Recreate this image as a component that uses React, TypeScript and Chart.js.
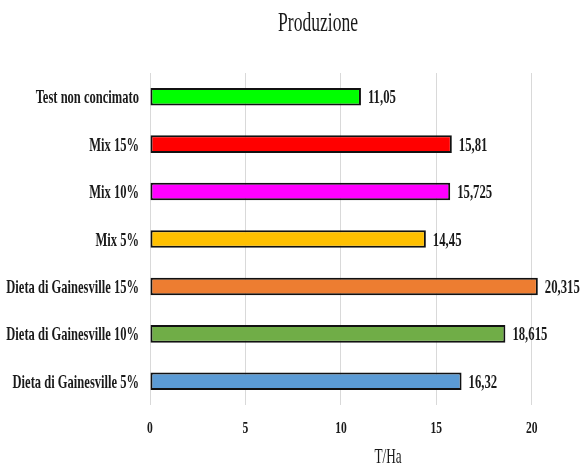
import React, { useEffect, useRef } from "react";
import { Chart, registerables } from "chart.js";

Chart.register(...registerables);

const categories = [
  "Test non concimato",
  "Mix 15%",
  "Mix 10%",
  "Mix 5%",
  "Dieta di Gainesville 15%",
  "Dieta di Gainesville 10%",
  "Dieta di Gainesville 5%",
];
const values = [11.05, 15.81, 15.725, 14.45, 20.315, 18.615, 16.32];
const valueLabels = ["11,05", "15,81", "15,725", "14,45", "20,315", "18,615", "16,32"];
const barColors = ["#00FF00", "#FF0000", "#FF00FF", "#FFC000", "#ED7D31", "#70AD47", "#5B9BD5"];
const xTicks = [0, 5, 10, 15, 20];
const titleText = "Produzione";
const xTitle = "T/Ha";

const FONT = "'Liberation Serif', 'Times New Roman', serif";
const TEXT = "#1a1a1a";

function drawCondensed(
  ctx: CanvasRenderingContext2D,
  text: string,
  x: number,
  y: number,
  font: string,
  sx: number,
  align: "left" | "right" | "center"
) {
  ctx.save();
  ctx.font = font;
  ctx.fillStyle = TEXT;
  ctx.textBaseline = "alphabetic";
  ctx.textAlign = align;
  ctx.translate(x, y);
  ctx.scale(sx, 1);
  ctx.fillText(text, 0, 0);
  ctx.restore();
}

const textPlugin = {
  id: "condensedText",
  afterDraw(chart: any) {
    const ctx = chart.ctx as CanvasRenderingContext2D;
    const meta = chart.getDatasetMeta(0);
    const xs = chart.scales.x;
    const area = chart.chartArea;
    const labelFont = `bold 19px ${FONT}`;
    // title
    drawCondensed(ctx, titleText, 318, 31, `normal 27px ${FONT}`, 0.65, "center");
    // category labels and value labels
    meta.data.forEach((bar: any, i: number) => {
      drawCondensed(ctx, categories[i], 139, bar.y + 6.5, labelFont, 0.66, "right");
      drawCondensed(ctx, valueLabels[i], bar.x + 7, bar.y + 6.5, labelFont, 0.67, "left");
    });
    // x tick labels
    xTicks.forEach((v) => {
      drawCondensed(ctx, String(v), xs.getPixelForValue(v), area.bottom + 28, `bold 17px ${FONT}`, 0.68, "center");
    });
    // x axis title
    drawCondensed(ctx, xTitle, 388, 463, `normal 22px ${FONT}`, 0.6, "center");
  },
};

export default function App() {
  const ref = useRef<HTMLCanvasElement>(null);
  useEffect(() => {
    document.body.style.margin = "0";
    const chart = new Chart(ref.current!, {
      type: "bar",
      data: {
        labels: categories,
        datasets: [
          {
            data: values,
            backgroundColor: barColors,
            borderColor: "#111",
            borderWidth: 2,
            borderSkipped: false,
            barPercentage: 0.37,
            categoryPercentage: 1,
          },
        ],
      },
      options: {
        indexAxis: "y",
        animation: false,
        responsive: false,
        maintainAspectRatio: false,
        layout: { padding: { left: 0, right: 15, top: 73, bottom: 0 } },
        plugins: {
          legend: { display: false },
          tooltip: { enabled: false },
          title: { display: false },
        },
        scales: {
          x: {
            min: 0,
            max: 22,
            afterBuildTicks: (axis: any) => {
              axis.ticks = xTicks.map((v) => ({ value: v }));
            },
            afterFit: (scale: any) => {
              scale.height = 63;
            },
            grid: { color: "#D9D9D9", drawTicks: false },
            border: { display: false },
            ticks: { display: false },
          },
          y: {
            afterFit: (scale: any) => {
              scale.width = 150;
            },
            grid: { display: false, drawTicks: false },
            border: { display: false },
            ticks: { display: false },
          },
        },
      },
      plugins: [textPlugin],
    });
    return () => chart.destroy();
  }, []);
  return (
    <div style={{ width: 585, height: 468 }}>
      <canvas ref={ref} width={585} height={468} style={{ display: "block" }} />
    </div>
  );
}
